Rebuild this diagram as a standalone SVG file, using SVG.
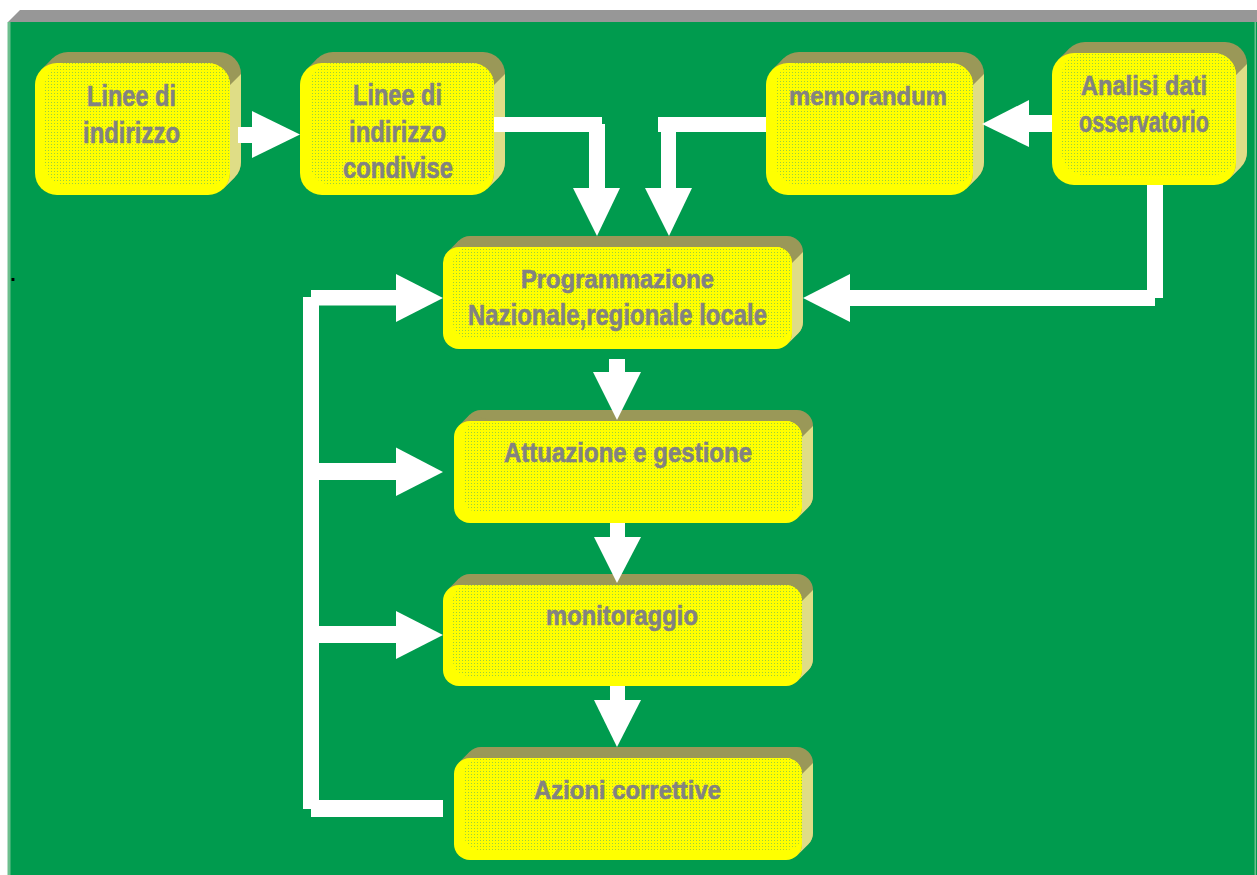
<svg xmlns="http://www.w3.org/2000/svg" width="1257" height="875" viewBox="0 0 1257 875">
<defs>
<pattern id="dots" x="0" y="0" width="3" height="3" patternUnits="userSpaceOnUse">
<rect width="3" height="3" fill="#ffff00"/>
<rect x="0" y="0" width="1" height="1" fill="#9ccf3c"/>
</pattern>
<style>
.top{fill:#9a9858}
.side{fill:#dfdd86}
.face{fill:#ffff00}
.dither{fill:url(#dots)}
.lbl{font-family:"Liberation Sans",Arial,sans-serif;font-weight:bold;fill:#828282;stroke:#828282;stroke-width:0.6;text-anchor:middle}
.arrow{fill:#ffffff}
</style>
</defs>
<rect x="0" y="0" width="1257" height="875" fill="#ffffff"/>
<polygon points="8,22 20,10 1257,10 1257,22" fill="#979797"/>
<rect x="8" y="22" width="1249" height="853" fill="#009b4e"/>
<rect x="7.5" y="22" width="3" height="853" fill="#6cbf8e"/>
<rect x="1254.5" y="22" width="1.5" height="853" fill="#6cbf8e"/>
<text x="10.2" y="281" font-family="Liberation Sans, Arial, sans-serif" font-weight="bold" font-size="20" fill="#000000">.</text>

<g id="node-linee-indirizzo">
<rect class="top" x="46" y="52" width="195" height="132" rx="22"/>
<polygon class="top" points="41.45,69.45 52.45,58.45 234.55,177.55 223.55,188.55"/>
<path class="side" d="M230,85 L230,173 A22,22 0 0 1 223.55,188.55 L234.55,177.55 A22,22 0 0 0 241,162 L241,74 Z"/>
<rect class="face" x="35" y="63" width="195" height="132" rx="22"/>
<rect class="dither" x="45" y="63" width="185" height="122" rx="22"/>
<text class="lbl" x="131.5" y="106" font-size="29" textLength="89" lengthAdjust="spacingAndGlyphs">Linee di</text>
<text class="lbl" x="131.5" y="143" font-size="29" textLength="97" lengthAdjust="spacingAndGlyphs">indirizzo</text>
</g>

<g id="node-linee-condivise">
<rect class="top" x="311" y="52" width="194" height="132" rx="22"/>
<polygon class="top" points="306.45,69.45 317.45,58.45 498.55,177.55 487.55,188.55"/>
<path class="side" d="M494,85 L494,173 A22,22 0 0 1 487.55,188.55 L498.55,177.55 A22,22 0 0 0 505,162 L505,74 Z"/>
<rect class="face" x="300" y="63" width="194" height="132" rx="22"/>
<rect class="dither" x="310" y="63" width="184" height="122" rx="22"/>
<text class="lbl" x="397.5" y="105" font-size="29" textLength="89" lengthAdjust="spacingAndGlyphs">Linee di</text>
<text class="lbl" x="397.5" y="142" font-size="29" textLength="97" lengthAdjust="spacingAndGlyphs">indirizzo</text>
<text class="lbl" x="398" y="178" font-size="29" textLength="110" lengthAdjust="spacingAndGlyphs">condivise</text>
</g>

<g id="node-memorandum">
<rect class="top" x="777" y="52" width="207" height="132" rx="22"/>
<polygon class="top" points="772.45,69.45 783.45,58.45 977.55,177.55 966.55,188.55"/>
<path class="side" d="M973,85 L973,173 A22,22 0 0 1 966.55,188.55 L977.55,177.55 A22,22 0 0 0 984,162 L984,74 Z"/>
<rect class="face" x="766" y="63" width="207" height="132" rx="22"/>
<rect class="dither" x="776" y="63" width="197" height="122" rx="22"/>
<text class="lbl" x="868" y="105" font-size="25" textLength="158" lengthAdjust="spacingAndGlyphs">memorandum</text>
</g>

<g id="node-analisi">
<rect class="top" x="1063" y="42" width="184" height="132" rx="22"/>
<polygon class="top" points="1058.45,59.45 1069.45,48.45 1240.55,167.55 1229.55,178.55"/>
<path class="side" d="M1236,75 L1236,163 A22,22 0 0 1 1229.55,178.55 L1240.55,167.55 A22,22 0 0 0 1247,152 L1247,64 Z"/>
<rect class="face" x="1052" y="53" width="184" height="132" rx="22"/>
<rect class="dither" x="1062" y="53" width="174" height="122" rx="22"/>
<text class="lbl" x="1144" y="95" font-size="27" textLength="126" lengthAdjust="spacingAndGlyphs">Analisi dati</text>
<text class="lbl" x="1144" y="132" font-size="30" textLength="130" lengthAdjust="spacingAndGlyphs">osservatorio</text>
</g>

<g id="node-programmazione">
<rect class="top" x="454" y="236" width="349" height="102" rx="16"/>
<polygon class="top" points="447.69,251.69 458.69,240.69 798.31,333.31 787.31,344.31"/>
<path class="side" d="M792,263 L792,333 A16,16 0 0 1 787.31,344.31 L798.31,333.31 A16,16 0 0 0 803,322 L803,252 Z"/>
<rect class="face" x="443" y="247" width="349" height="102" rx="16"/>
<rect class="dither" x="453" y="247" width="339" height="92" rx="16"/>
<text class="lbl" x="617.5" y="288" font-size="26.5" textLength="193" lengthAdjust="spacingAndGlyphs">Programmazione</text>
<text class="lbl" x="617.5" y="325" font-size="30" textLength="299" lengthAdjust="spacingAndGlyphs">Nazionale,regionale locale</text>
</g>

<g id="node-attuazione">
<rect class="top" x="465" y="410" width="348" height="102" rx="16"/>
<polygon class="top" points="458.69,425.69 469.69,414.69 808.31,507.31 797.31,518.31"/>
<path class="side" d="M802,437 L802,507 A16,16 0 0 1 797.31,518.31 L808.31,507.31 A16,16 0 0 0 813,496 L813,426 Z"/>
<rect class="face" x="454" y="421" width="348" height="102" rx="16"/>
<rect class="dither" x="464" y="421" width="338" height="92" rx="16"/>
<text class="lbl" x="628" y="462" font-size="28" textLength="248" lengthAdjust="spacingAndGlyphs">Attuazione e gestione</text>
</g>

<g id="node-monitoraggio">
<rect class="top" x="454" y="574" width="359" height="101" rx="16"/>
<polygon class="top" points="447.69,589.69 458.69,578.69 808.31,670.31 797.31,681.31"/>
<path class="side" d="M802,601 L802,670 A16,16 0 0 1 797.31,681.31 L808.31,670.31 A16,16 0 0 0 813,659 L813,590 Z"/>
<rect class="face" x="443" y="585" width="359" height="101" rx="16"/>
<rect class="dither" x="453" y="585" width="349" height="91" rx="16"/>
<text class="lbl" x="622" y="625" font-size="27" textLength="152" lengthAdjust="spacingAndGlyphs">monitoraggio</text>
</g>

<g id="node-azioni">
<rect class="top" x="465" y="747" width="348" height="102" rx="16"/>
<polygon class="top" points="458.69,762.69 469.69,751.69 808.31,844.31 797.31,855.31"/>
<path class="side" d="M802,774 L802,844 A16,16 0 0 1 797.31,855.31 L808.31,844.31 A16,16 0 0 0 813,833 L813,763 Z"/>
<rect class="face" x="454" y="758" width="348" height="102" rx="16"/>
<rect class="dither" x="464" y="758" width="338" height="92" rx="16"/>
<text class="lbl" x="627.5" y="799" font-size="26.5" textLength="187" lengthAdjust="spacingAndGlyphs">Azioni correttive</text>
</g>

<g id="connectors">
<rect class="arrow" x="238" y="127" width="16" height="16"/>
<polygon class="arrow" points="252,111 300,134.5 252,158"/>

<rect class="arrow" x="494" y="117" width="108" height="15"/>
<rect class="arrow" x="589" y="124" width="16" height="65"/>
<polygon class="arrow" points="573,188 620,188 597,236"/>

<rect class="arrow" x="658" y="117" width="108" height="15"/>
<rect class="arrow" x="661" y="117" width="15" height="72"/>
<polygon class="arrow" points="645,188 692,188 669,236"/>

<rect class="arrow" x="1028" y="115" width="24" height="17"/>
<polygon class="arrow" points="1029,100 1029,147 982,124"/>

<rect class="arrow" x="1147" y="185" width="16" height="113"/>
<rect class="arrow" x="849" y="290" width="306" height="16"/>
<polygon class="arrow" points="850,274 850,322 803,298"/>

<rect class="arrow" x="609" y="359" width="16" height="14"/>
<polygon class="arrow" points="593,372 641,372 617,420"/>

<rect class="arrow" x="610" y="523" width="15" height="15"/>
<polygon class="arrow" points="594,537 641,537 617,583"/>

<rect class="arrow" x="610" y="686" width="15" height="15"/>
<polygon class="arrow" points="594,700 641,700 617,747"/>

<rect class="arrow" x="303" y="297" width="16" height="512"/>
<rect class="arrow" x="311" y="290" width="86" height="15.5"/>
<polygon class="arrow" points="396,274 396,322 443,298"/>
<rect class="arrow" x="318" y="463" width="79" height="17"/>
<polygon class="arrow" points="396,447.5 396,496 443,472"/>
<rect class="arrow" x="318" y="626" width="79" height="17"/>
<polygon class="arrow" points="396,611 396,659 443,635"/>
<rect class="arrow" x="311" y="800" width="132" height="17"/>
</g>
</svg>
